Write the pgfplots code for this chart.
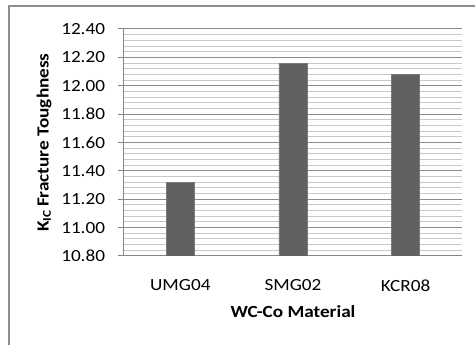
\documentclass[border=0pt]{standalone}
\usepackage{pgfplots}
\pgfplotsset{compat=1.18}
\usepackage{fontspec}
\setmainfont{Carlito}[FakeStretch=1.13]
\definecolor{barc}{HTML}{606060}
\definecolor{bare}{HTML}{7A7A7A}
\definecolor{majg}{HTML}{8C8C8C}
\definecolor{ming}{HTML}{C8C8C8}
\definecolor{axc}{HTML}{868686}
\definecolor{frc}{HTML}{8E8E8E}
\begin{document}
\fontsize{12.75pt}{15pt}\selectfont
\begin{tikzpicture}
\path[use as bounding box] (-93pt,-66.75pt) rectangle (263.25pt,192pt);
\draw[frc, line width=1.1pt] (-86.25pt,-90pt) -- (-86.25pt,187.5pt) -- (290pt,187.5pt);
\begin{axis}[
  at={(0,0)}, anchor=south west,
  scale only axis,
  width=253.5pt, height=170.25pt,
  xmin=-0.5, xmax=2.5,
  ymin=10.8, ymax=12.4,
  xtick={0,1,2},
  xticklabels={UMG04,SMG02,KCR08},
  ytick={10.8,11.0,...,12.41},
  minor y tick num=4,
  axis x line=bottom, axis y line=left,
  axis line style={axc, line width=0.75pt, -},
  x axis line style={-},
  y axis line style={-},
  xtick style={draw=none},
  ytick style={axc, line width=0.75pt},
  tick align=outside,
  major tick length=4.5pt,
  minor tick length=0pt,
  ymajorgrids, yminorgrids,
  major grid style={majg, line width=0.75pt},
  minor grid style={ming, line width=0.75pt},
  /pgf/number format/assume math mode=true,
  yticklabel={\pgfmathprintnumber[fixed,fixed zerofill,precision=2]{\tick}},
  yticklabel style={anchor=east, inner sep=0pt, xshift=-9.5pt},
  xticklabel style={anchor=north, inner sep=0pt, yshift=-13pt},
  xlabel={\bfseries WC-Co Material},
  ylabel={\bfseries K\textsubscript{IC}\,Fracture Toughness},
  xlabel style={at={(axis description cs:0.5,0)}, anchor=center, yshift=-42pt},
  ylabel style={at={([xshift=-60pt]axis description cs:0,0.5)}, anchor=center},
  tick label style={font=\fontsize{12.75pt}{15pt}\selectfont},
  label style={font=\fontsize{12.75pt}{15pt}\selectfont},
]
\addplot[ybar, bar width=21pt, fill=barc, draw=bare, line width=0.5pt]
  coordinates {(0,11.32) (1,12.16) (2,12.08)};
\end{axis}
\end{tikzpicture}
\end{document}
